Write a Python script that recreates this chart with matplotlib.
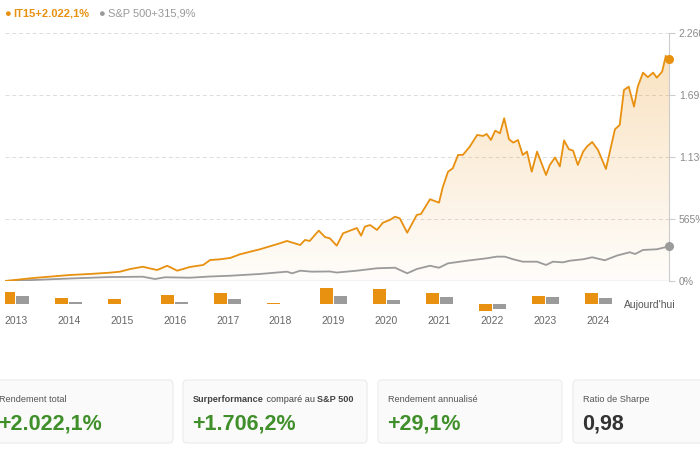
import numpy as np
import matplotlib
matplotlib.use("Agg")
import matplotlib.pyplot as plt  # noqa: E402
from matplotlib.colors import LinearSegmentedColormap, to_rgb  # noqa: E402
from matplotlib.patches import FancyBboxPatch  # noqa: E402

plt.rcParams["font.family"] = ["Liberation Sans", "DejaVu Sans"]

ORANGE = "#e8900f"
GREY = "#9b9b9b"
GREEN = "#3f8f2a"

# cumulative return (%), time in fractional years
it15_t = [2012.80, 2013.33, 2014.03, 2014.40, 2014.78, 2014.97, 2015.16, 2015.40,
          2015.67, 2015.86, 2016.05, 2016.29, 2016.54, 2016.67, 2016.86, 2017.05,
          2017.23, 2017.61, 2017.99, 2018.12, 2018.37, 2018.46, 2018.55, 2018.72,
          2018.84, 2018.93, 2019.06, 2019.18, 2019.31, 2019.44, 2019.52, 2019.59,
          2019.69, 2019.82, 2019.93, 2020.06, 2020.16, 2020.25, 2020.39, 2020.57,
          2020.65, 2020.82, 2020.99, 2021.06, 2021.16, 2021.25, 2021.35, 2021.44,
          2021.57, 2021.71, 2021.82, 2021.89, 2021.97, 2022.05, 2022.14, 2022.22,
          2022.31, 2022.39, 2022.48, 2022.57, 2022.65, 2022.74, 2022.84, 2023.01,
          2023.08, 2023.18, 2023.27, 2023.35, 2023.44, 2023.52, 2023.61, 2023.71,
          2023.78, 2023.88, 2023.99, 2024.14, 2024.31, 2024.40, 2024.48, 2024.57,
          2024.67, 2024.74, 2024.84, 2024.93, 2025.03, 2025.10, 2025.20, 2025.27,
          2025.33]
it15_v = [0, 27, 55, 64, 76, 85, 109, 130,
          100, 139, 94, 128, 146, 191, 198, 210,
          243, 289, 344, 365, 328, 374, 365, 459,
          400, 389, 322, 435, 459, 483, 413, 495,
          510, 465, 531, 556, 586, 571, 440, 602,
          611, 745, 714, 854, 996, 1027, 1149, 1149,
          1224, 1331, 1322, 1340, 1285, 1370, 1346, 1483,
          1292, 1261, 1285, 1149, 1179, 996, 1179, 966,
          1057, 1126, 1044, 1281, 1201, 1188, 1057, 1179,
          1224, 1267, 1194, 1021, 1383, 1422, 1741, 1771,
          1589, 1771, 1899, 1857, 1899, 1853, 1908, 2051,
          2022.1]

sp_t = [2012.80, 2013.33, 2014.03, 2014.78, 2015.40, 2015.63, 2015.82, 2016.29,
        2016.67, 2017.05, 2017.61, 2018.12, 2018.22, 2018.37, 2018.59, 2018.93,
        2019.06, 2019.44, 2019.82, 2020.16, 2020.39, 2020.57, 2020.82, 2020.99,
        2021.16, 2021.52, 2021.89, 2022.08, 2022.23, 2022.39, 2022.57, 2022.84,
        2023.01, 2023.14, 2023.33, 2023.46, 2023.71, 2023.88, 2024.12, 2024.35,
        2024.59, 2024.69, 2024.84, 2025.10, 2025.33]
sp_v = [0, 9, 23, 36, 39, 18, 34, 30,
        41, 48, 64, 85, 70, 94, 85, 87,
        77, 94, 116, 121, 70, 109, 139, 121,
        161, 185, 207, 222, 222, 198, 176, 176,
        146, 176, 170, 185, 198, 216, 189, 232,
        262, 246, 283, 289, 315.9]

# calendar-year returns (%)
years = [2013, 2014, 2015, 2016, 2017, 2018, 2019, 2020, 2021, 2022, 2023, 2024]
it15_yearly = [48, 26, 22, 38, 44, 2, 64, 60, 46, -27, 31, 44]
sp_yearly = [32, 10, 1, 7, 21, -2, 32, 17, 30, -19, 29, 26]

yticks = [0, 565, 1130, 1695, 2260]
ytick_labels = ["0%", "565%", "1.130%", "1.695%", "2.260%"]

card_titles = ["Rendement total", None, "Rendement annualisé", "Ratio de Sharpe"]
card_values = ["+2.022,1%", "+1.706,2%", "+29,1%", "0,98"]
card_colors = [GREEN, GREEN, GREEN, "#333333"]

W, H = 700, 450
XLIM = (2012.8, 2025.33)
fig = plt.figure(figsize=(7, 4.5), dpi=100)


def fbox(x0, y0, x1, y1):
    # pixel box (top-left origin) -> figure fraction rect
    return [x0 / W, 1 - y1 / H, (x1 - x0) / W, (y1 - y0) / H]


# main chart
ax = fig.add_axes(fbox(5, 33, 669, 281))
for v in yticks[1:]:
    ax.axhline(v, color="#dcdcdc", lw=0.7, ls=(0, (4, 3)), zorder=0)
ax.axhline(0, color="#cfcfcf", lw=1.0, zorder=1)

t = np.array(it15_t)
v = np.array(it15_v)
fill = ax.fill_between(t, 0, v, color="none", lw=0)
r, g, b = to_rgb(ORANGE)
cmap = LinearSegmentedColormap.from_list(
    "fade", [(r, g, b, 0.02), (r, g, b, 0.28)])
grad = ax.imshow(np.linspace(0, 1, 256).reshape(-1, 1), cmap=cmap,
                 extent=[t[0], t[-1], 0, 2260], origin="lower",
                 aspect="auto", zorder=1)
grad.set_clip_path(fill.get_paths()[0], transform=ax.transData)
ax.set_xlim(*XLIM)
ax.set_ylim(0, 2260)

ax.plot(sp_t, sp_v, color=GREY, lw=1.3, zorder=3)
ax.plot(t, v, color=ORANGE, lw=1.3, zorder=4)
ax.plot(sp_t[-1], sp_v[-1], "o", color=GREY, ms=5.5, zorder=5, clip_on=False)
ax.plot(t[-1], v[-1], "o", color=ORANGE, ms=5.5, zorder=5, clip_on=False)

ax.yaxis.tick_right()
ax.set_yticks(yticks)
ax.set_yticklabels(ytick_labels)
ax.tick_params(axis="y", length=4, width=0.8, color="#cccccc",
               labelcolor="#8a8a8a", labelsize=7.5, pad=3)
ax.set_xticks([])
for s in ["top", "left", "bottom"]:
    ax.spines[s].set_visible(False)
ax.spines["right"].set_color("#cccccc")
ax.spines["right"].set_bounds(0, 2260)

# yearly bars
axb = fig.add_axes(fbox(5, 286, 669, 312))
axb.set_xlim(*XLIM)
axb.set_ylim(-33, 74)
yr = np.array(years)
axb.bar(yr - 0.13, it15_yearly, width=0.24, color=ORANGE, lw=0)
axb.bar(yr + 0.13, sp_yearly, width=0.24, color=GREY, lw=0)
axb.set_xticks(years)
axb.set_xticklabels([str(y) for y in years])
axb.tick_params(axis="x", length=0, labelsize=7.5, labelcolor="#666666", pad=3)
axb.set_yticks([])
for s in axb.spines.values():
    s.set_visible(False)
axb.patch.set_alpha(0)
fig.text(624 / W, 1 - 305 / H, "Aujourd'hui", fontsize=7.5, color="#555555",
         va="center", ha="left")

# legend
fig.text(4 / W, 1 - 13.5 / H, "●", fontsize=8, color=ORANGE, va="center")
fig.text(13 / W, 1 - 13 / H, "IT15+2.022,1%", fontsize=8, color=ORANGE,
         weight="bold", va="center")
fig.text(98 / W, 1 - 13.5 / H, "●", fontsize=8, color=GREY, va="center")
fig.text(108 / W, 1 - 13 / H, "S&P 500+315,9%", fontsize=8, color="#999999",
         va="center")

# summary cards
axc = fig.add_axes([0, 0, 1, 1], zorder=-1)
axc.set_xlim(0, W)
axc.set_ylim(H, 0)
axc.axis("off")
card_left = [-11, 183, 378, 573]
for i, x0 in enumerate(card_left):
    axc.add_patch(FancyBboxPatch((x0, 380), 184, 63,
                                 boxstyle="round,pad=0,rounding_size=4",
                                 fc="#fafafa", ec="#ebebeb", lw=0.8))
    if card_titles[i] is not None:
        axc.text(x0 + 10, 399, card_titles[i], fontsize=6.6, color="#555555",
                 va="center")
    axc.text(x0 + 9, 424, card_values[i], fontsize=15.5, color=card_colors[i],
             weight="bold", va="center")

# mixed-weight title for the outperformance card
renderer = fig.canvas.get_renderer()
x = card_left[1] + 10
for piece, wt in [("Surperformance", "bold"), (" comparé au ", "normal"),
                  ("S&P 500", "bold")]:
    tx = axc.text(x, 399, piece, fontsize=6.6, color="#444444", weight=wt,
                  va="center")
    bb = tx.get_window_extent(renderer)
    x = axc.transData.inverted().transform((bb.x1, bb.y0))[0]

fig.savefig("out.png", dpi=100)
